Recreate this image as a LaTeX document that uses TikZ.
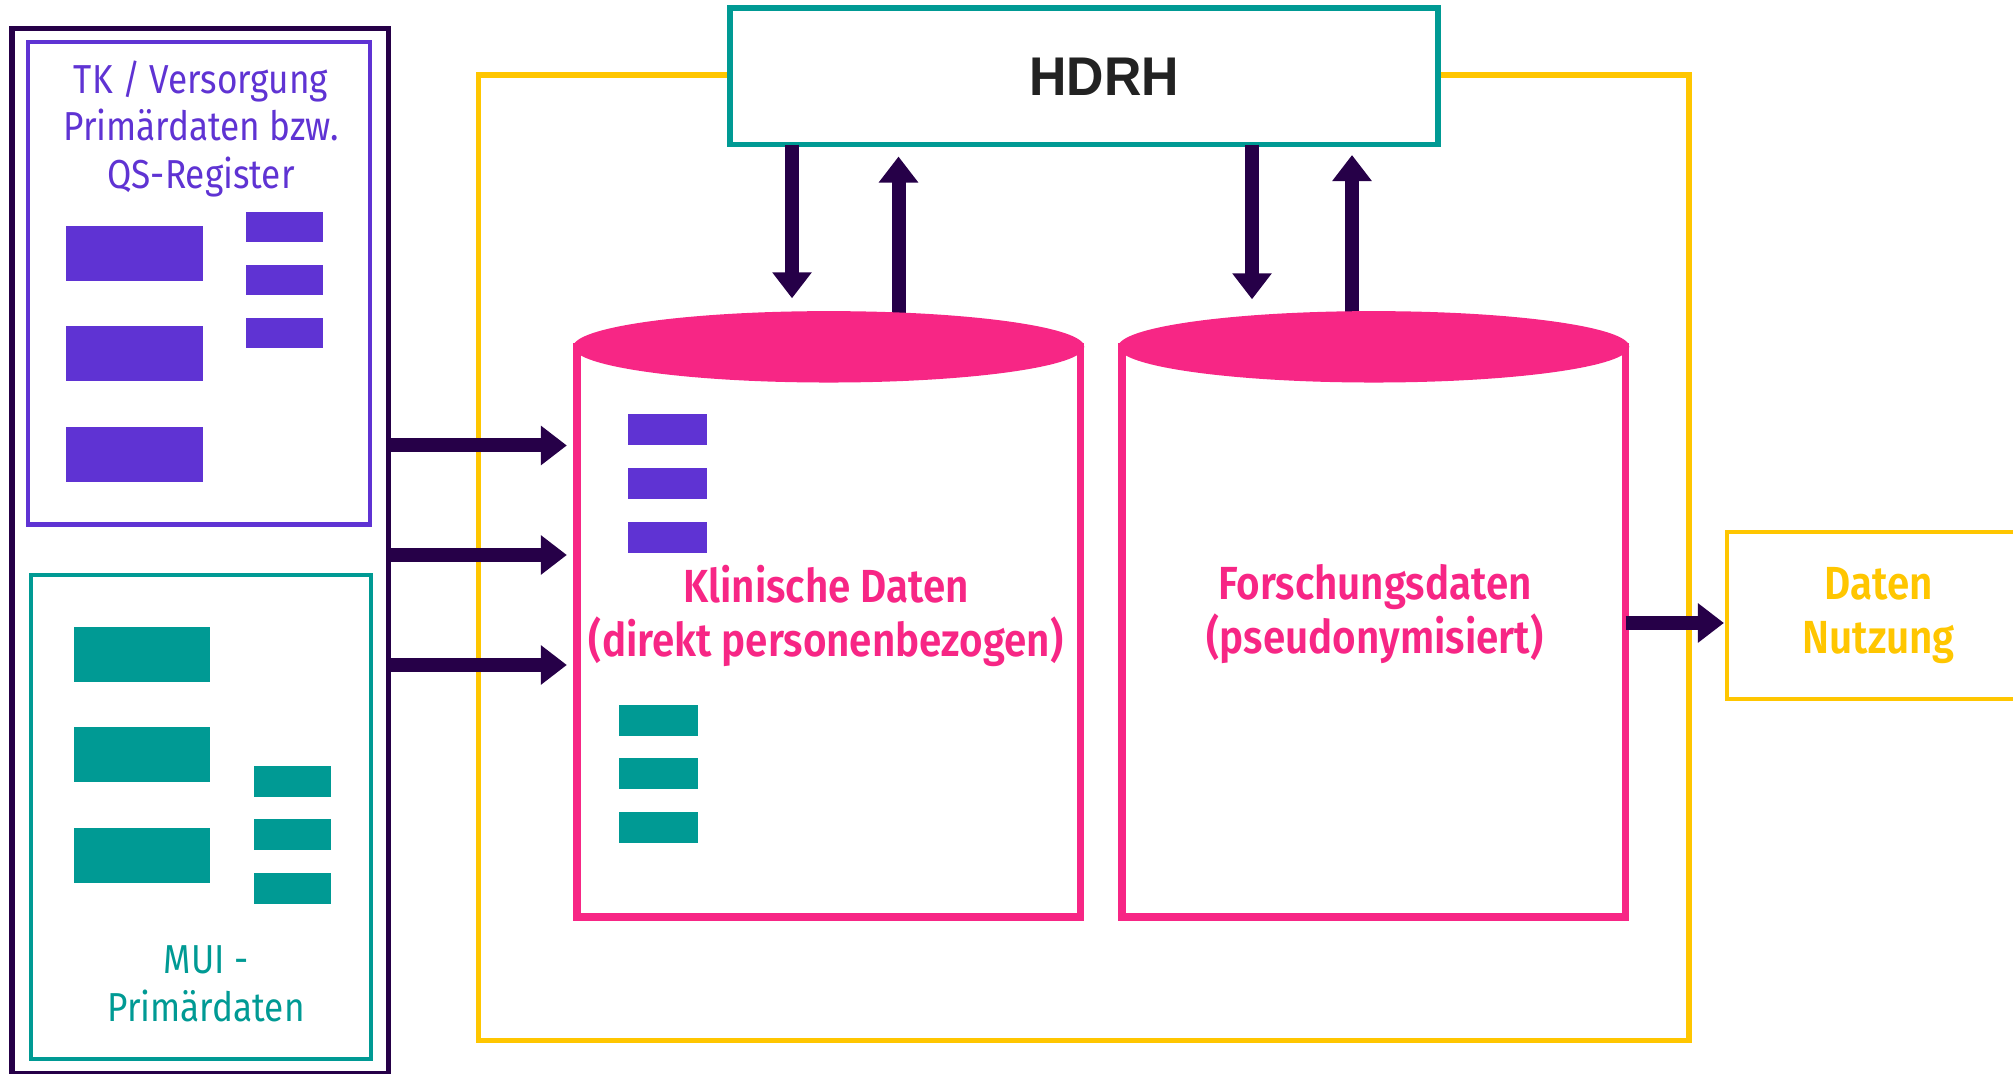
\documentclass[tikz,border=0pt]{standalone}
\usepackage{fontspec}
\usetikzlibrary{arrows.meta}
\newfontfamily\fira[FakeStretch=0.87,BoldFont={Fira Sans SemiBold}]{Fira Sans}
\newfontfamily\hdrhfont[FakeStretch=0.95]{Liberation Sans}
\definecolor{dunkel}{RGB}{38,0,72}
\definecolor{lila}{RGB}{95,51,211}
\definecolor{tuerkis}{RGB}{0,154,148}
\definecolor{pinkrot}{RGB}{247,38,133}
\definecolor{gelb}{RGB}{255,198,0}
\definecolor{schrift}{RGB}{34,34,34}
\begin{document}
\begin{tikzpicture}[x=0.01cm,y=-0.01cm,>={Triangle[length=7.4pt,width=10.8pt]}]
	\tikzset{kasten/.style={draw,inner sep=0pt,outer sep=0pt},
		pfeil/.style={->,dunkel,line width=0.14cm},
		klein/.style={font=\fira\fontsize{11.5}{13.5}\selectfont,align=center},
		fett/.style={font=\fira\bfseries\fontsize{13.2}{15.2}\selectfont,align=center}
	}
	\useasboundingbox (0,0) rectangle (2013,1074);
	\node[kasten,gelb,line width=0.055cm,minimum width=12.095cm,minimum height=9.645cm] (rahmen) at (1083.75,557.75) {};
	\node[kasten,tuerkis,fill=white,line width=0.055cm,minimum width=7.08cm,minimum height=1.365cm] (hdrh) at (1084,76.25) {};
	\node[font=\hdrhfont\bfseries\fontsize{15.5}{18}\selectfont,schrift,inner sep=0pt] (hdrhtext) at (1104,76.5) {HDRH};
	\node[kasten,dunkel,line width=0.053cm,minimum width=3.765cm,minimum height=10.445cm] (quellen) at (200.25,550.75) {};
	\node[kasten,lila,line width=0.045cm,minimum width=3.42cm,minimum height=4.825cm] (tk) at (199,283.25) {};
	\node[kasten,tuerkis,line width=0.04cm,minimum width=3.404cm,minimum height=4.835cm] (mui) at (200.8,816.75) {};
	\node[klein,lila,inner sep=0pt] (tktext) at (201,129) {TK / Versorgung\\Primärdaten bzw.\\QS-Register};
	\node[klein,tuerkis,inner sep=0pt] (muitext) at (206,984) {MUI -\\Primärdaten};
	\foreach \i in {0,1,2}{
		\fill[lila] (66,226+100.5*\i) rectangle +(137,55);
		\fill[lila] (246,212+53*\i) rectangle +(77,30);
		\fill[tuerkis] (74,627+100.5*\i) rectangle +(136,55);
		\fill[tuerkis] (254,766+53.5*\i) rectangle +(77,31);
		\fill[lila] (628,414+54*\i) rectangle +(79,31.5);
		\fill[tuerkis] (619,705+53.5*\i) rectangle +(78.5,31);
	}
	\node[kasten,pinkrot,line width=0.075cm,minimum width=5.035cm,minimum height=5.7cm] (klinisch) at (828.75,632) {};
	\node[kasten,pinkrot,line width=0.075cm,minimum width=5.035cm,minimum height=5.7cm] (forschung) at (1373.75,632) {};
	\coordinate (klinischdeckel) at (828.5,311.3);
	\coordinate (forschungdeckel) at (1373.75,311.3);
	\node[kasten,gelb,line width=0.04cm,minimum width=3.03cm,minimum height=1.66cm,fett,text=gelb] (nutzung) at (1878.5,615.5) {Daten\\Nutzung};
	\foreach \y in {445.5,555,665}
		\draw[pfeil,shorten >=0.1cm] (quellen.east |- 0,\y) -- (klinisch.west |- 0,\y);
	\draw[pfeil,shorten >=0.13cm] (hdrh.south -| 792,0) -- (klinischdeckel -| 792,0);
	\draw[pfeil,shorten >=0.12cm] (klinisch.north -| 898.5,0) -- (hdrh.south -| 898.5,0);
	\draw[pfeil,shorten >=0.12cm] (hdrh.south -| 1252,0) -- (forschungdeckel -| 1252,0);
	\draw[pfeil,shorten >=0.105cm] (forschung.north -| 1352,0) -- (hdrh.south -| 1352,0);
	\draw[pfeil,shorten >=0.03cm] (forschung.east |- 0,623) -- (nutzung.west |- 0,623);
	\fill[pinkrot] (klinisch.north) ellipse [x radius=255.5,y radius=35.7];
	\fill[pinkrot] (forschung.north) ellipse [x radius=255.5,y radius=35.7];
	\node[fett,pinkrot,inner sep=0pt] (klinischtext) at (826,616) {Klinische Daten\\(direkt personenbezogen)};
	\node[fett,pinkrot,inner sep=0pt] (forschungtext) at (1375,614) {Forschungsdaten\\(pseudonymisiert)};
\end{tikzpicture}
\end{document}
